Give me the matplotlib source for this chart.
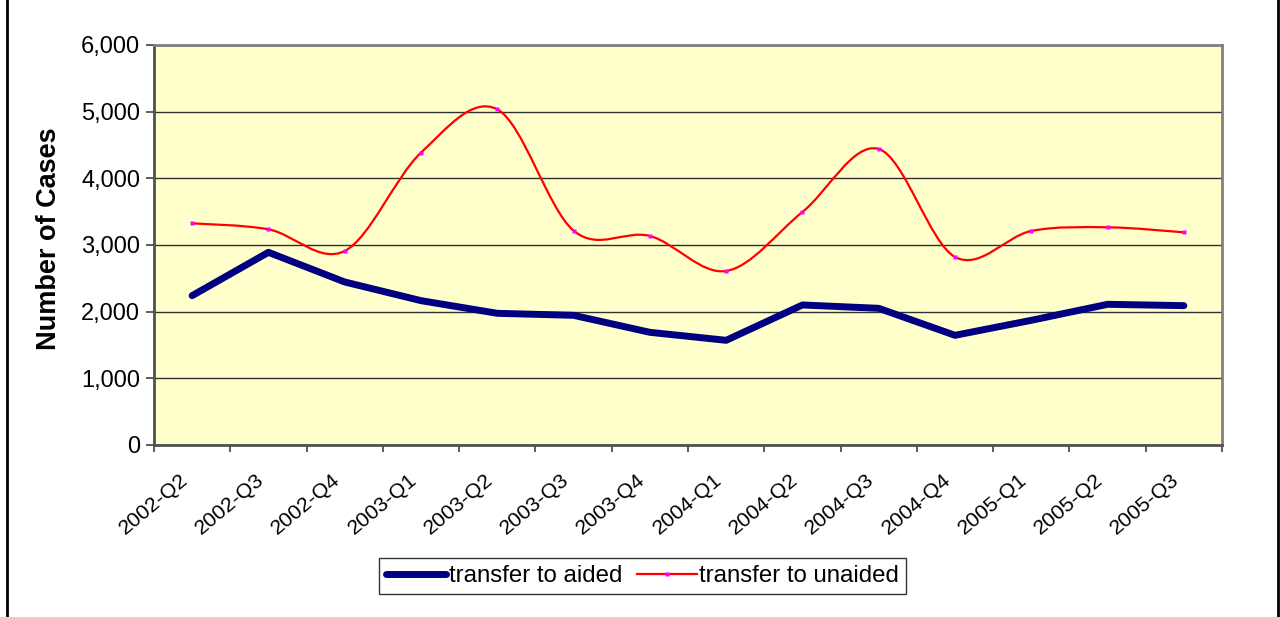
import numpy as np
import matplotlib
matplotlib.use("Agg")
import matplotlib.pyplot as plt
from matplotlib.path import Path
from matplotlib.patches import PathPatch
from matplotlib.lines import Line2D
from matplotlib.transforms import ScaledTranslation

quarters = ["2002-Q2", "2002-Q3", "2002-Q4", "2003-Q1", "2003-Q2", "2003-Q3", "2003-Q4",
            "2004-Q1", "2004-Q2", "2004-Q3", "2004-Q4", "2005-Q1", "2005-Q2", "2005-Q3"]
aided = [2240, 2890, 2445, 2165, 1975, 1945, 1690, 1570, 2100, 2050, 1645, 1870, 2110, 2090]
unaided = [3325, 3235, 2910, 4385, 5035, 3215, 3135, 2610, 3495, 4440, 2820, 3210, 3265, 3190]

plt.rcParams['font.family'] = ['Liberation Sans', 'DejaVu Sans']
fs = 17.0

fig = plt.figure(figsize=(12.8, 6.17), dpi=100)
ax = fig.add_axes([0.1203, 0.2788, 0.8344, 0.6483])
ax.set_facecolor('#FFFFCC')

x = np.arange(len(quarters)) + 0.5

# thick straight line for aided transfers
ax.plot(x, aided, color='#000080', lw=5, solid_capstyle='round', solid_joinstyle='round', zorder=3)


# smoothed line like Excel (Catmull-Rom style bezier) for unaided transfers
def smooth_path(xs, ys):
    pts = np.column_stack([xs, ys]).astype(float)
    verts = [pts[0]]
    codes = [Path.MOVETO]
    n = len(pts)
    for i in range(n - 1):
        p0 = pts[max(i - 1, 0)]
        p1 = pts[i]
        p2 = pts[i + 1]
        p3 = pts[min(i + 2, n - 1)]
        verts += [p1 + (p2 - p0) / 6, p2 - (p3 - p1) / 6, p2]
        codes += [Path.CURVE4] * 3
    return Path(verts, codes)


ax.add_patch(PathPatch(smooth_path(x, unaided), facecolor='none', edgecolor='red', lw=1.6, zorder=4))
ax.plot(x, unaided, ls='none', marker='s', ms=2.5, color='magenta', mec='none', zorder=5)

ax.set_xlim(0, len(quarters))
ax.set_ylim(0, 6000)
ax.set_yticks(range(0, 6001, 1000))
ax.set_yticklabels([f"{v:,}" for v in range(0, 6001, 1000)])
ax.set_xticks(np.arange(len(quarters) + 1))
ax.set_xticklabels([])
ax.set_xticks(x, minor=True)
ax.set_xticklabels(quarters, minor=True, rotation=40, ha='right', va='center', rotation_mode='anchor')
ax.tick_params(axis='x', which='minor', length=0, pad=23, labelsize=15.3)
ax.tick_params(axis='x', which='major', length=5, width=1.2, color='#404040', direction='out')
ax.tick_params(axis='y', length=6, width=1.2, color='#404040', labelsize=fs, pad=4)
shift = ScaledTranslation(-7 / 100, 0, fig.dpi_scale_trans)
for lab in ax.get_xticklabels(minor=True):
    lab.set_transform(lab.get_transform() + shift)

ax.grid(axis='y', color='#303030', lw=1)
ax.set_axisbelow(True)
for s in ax.spines.values():
    s.set_color('#808080')
    s.set_linewidth(2)
ax.spines['left'].set_color('#505050')
ax.spines['bottom'].set_color('#505050')

ax.set_ylabel('Number of Cases', fontsize=19.5, fontweight='bold')
ax.yaxis.set_label_coords(-0.0865, 0.515)

handles = [Line2D([], [], color='#000080', lw=5, solid_capstyle='round'),
           Line2D([], [], color='red', lw=1.6, marker='s', ms=2.5, mfc='magenta', mec='none')]
leg = fig.legend(handles, ['transfer to aided', 'transfer to unaided'], loc='center',
                 bbox_to_anchor=(0.502, 0.0665), ncol=2, fontsize=17.3, frameon=True,
                 fancybox=False, handlelength=2.5, handletextpad=0.1, columnspacing=0.6,
                 borderpad=0.3, borderaxespad=0)
leg.get_frame().set_edgecolor('black')
leg.get_frame().set_linewidth(1)

# outer border of the chart
fig.add_artist(Line2D([0.0055, 0.0055], [0, 1], color='black', lw=2, transform=fig.transFigure))
fig.add_artist(Line2D([0.9985, 0.9985], [0, 1], color='black', lw=2, transform=fig.transFigure))

fig.savefig('out.png', dpi=100)
